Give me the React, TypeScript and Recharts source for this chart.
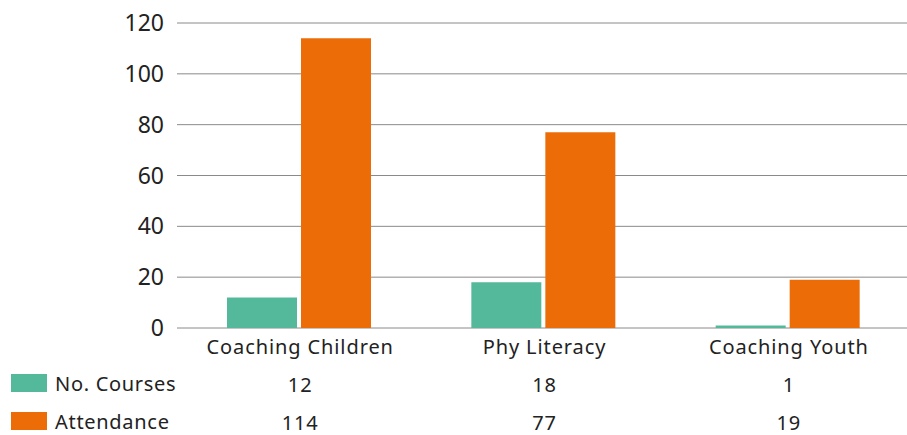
import React from 'react';
import { BarChart, Bar, XAxis, YAxis, CartesianGrid } from 'recharts';

const categories = ['Coaching Children', 'Phy Literacy', 'Coaching Youth'];
const courses = [12, 18, 1];
const attendance = [114, 77, 19];
const yTicks = [0, 20, 40, 60, 80, 100, 120];
const seriesNames = ['No. Courses', 'Attendance'];

const TEAL = '#54B99B';
const ORANGE = '#EC6D08';
const seriesColors = [TEAL, ORANGE];
const FONT = '"Noto Sans", "Open Sans", sans-serif';
const TEXT = '#222';

const data = categories.map((name, i) => ({
  name,
  courses: courses[i],
  attendance: attendance[i],
}));

// Category label plus the two data-table values beneath it
const TableTick = (props: any) => {
  const { x, y, payload } = props;
  const row = data[payload.index];
  return (
    <g fontFamily={FONT} fontSize={20} fill={TEXT} textAnchor="middle" letterSpacing={0.9}>
      <text x={x + 1} y={y + 18}>{row.name}</text>
      <text x={x + 1} y={y + 56}>{row.courses}</text>
      <text x={x + 1} y={y + 94}>{row.attendance}</text>
    </g>
  );
};

// Row headers of the data table: swatch + series name
const RowHeaders = () => (
  <svg
    width={240}
    height={62}
    style={{ position: 'absolute', left: 0, top: 374, display: 'block', overflow: 'visible' }}
  >
    {seriesNames.map((name, i) => (
      <g key={name}>
        <rect x={11} y={i * 38} width={36} height={18} fill={seriesColors[i]} />
        <text
          x={55}
          y={i * 38 + 17}
          fontFamily={FONT}
          fontSize={20}
          letterSpacing={0.7}
          fill={TEXT}
        >
          {name}
        </text>
      </g>
    ))}
  </svg>
);

export default function App() {
  return (
    <div
      style={{
        position: 'absolute',
        left: 0,
        top: 0,
        width: 907,
        height: 435,
        overflow: 'hidden',
        background: '#fff',
      }}
    >
      <BarChart
        width={910}
        height={435}
        data={data}
        margin={{ top: 23, right: 0, bottom: 0, left: 0 }}
        barSize={70}
        barGap={4}
      >
        <CartesianGrid vertical={false} stroke="#8a8a8a" strokeWidth={1} />
        <XAxis
          dataKey="name"
          axisLine={false}
          tickLine={false}
          tick={<TableTick />}
          interval={0}
          height={107}
        />
        <YAxis
          width={177}
          domain={[0, 120]}
          ticks={yTicks}
          interval={0}
          axisLine={false}
          tickLine={false}
          tickMargin={7}
          tick={{ fontFamily: FONT, fontSize: 23, fill: TEXT }}
        />
        <Bar dataKey="courses" name={seriesNames[0]} fill={TEAL} isAnimationActive={false} />
        <Bar dataKey="attendance" name={seriesNames[1]} fill={ORANGE} isAnimationActive={false} />
      </BarChart>
      <RowHeaders />
    </div>
  );
}
